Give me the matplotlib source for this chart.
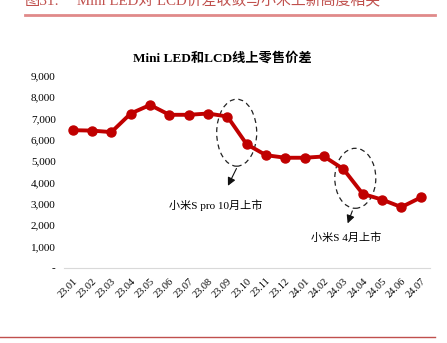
import matplotlib.pyplot as plt
from matplotlib.patches import Ellipse
from matplotlib.lines import Line2D

plt.rcParams['font.family'] = ['Liberation Serif', 'Noto Sans CJK SC']

months = ['23.01', '23.02', '23.03', '23.04', '23.05', '23.06', '23.07', '23.08',
          '23.09', '23.10', '23.11', '23.12', '24.01', '24.02', '24.03', '24.04',
          '24.05', '24.06', '24.07']
price_gap = [6450, 6430, 6360, 7230, 7630, 7170, 7170, 7230, 7090, 5790,
             5280, 5160, 5160, 5220, 4630, 3470, 3200, 2850, 3300]
y_ticks = [0, 1000, 2000, 3000, 4000, 5000, 6000, 7000, 8000, 9000]
y_labels = ['-', '1,000', '2,000', '3,000', '4,000', '5,000', '6,000', '7,000', '8,000', '9,000']

W, H = 447, 343
fig = plt.figure(figsize=(W / 100, H / 100), dpi=100)

# page header (cut off at top in the source) and rules
fig.text(25 / W, 1 - 1 / H, '图31:', color='#c0504d', fontsize=11, va='center', ha='left')
fig.text(77 / W, 1 - 1 / H, 'Mini LED对 LCD价差收敛与小米上新高度相关',
         color='#c0504d', fontsize=10.7, va='center', ha='left')
fig.add_artist(Line2D([25 / W, 435 / W], [1 - 14.5 / H, 1 - 14.5 / H],
                      color='#e08a8a', lw=2))
fig.add_artist(Line2D([0, 435 / W], [1 - 337 / H, 1 - 337 / H],
                      color='#c0504d', lw=1))

ax = fig.add_axes([64 / W, 1 - 268 / H, (430 - 64) / W, (268 - 75.7) / H])
x = list(range(len(months)))
ax.plot(x, price_gap, color='#c00000', lw=2.8, marker='o', markersize=6.5)

ax.set_xlim(-0.45, len(months) - 1 + 0.48)
ax.set_ylim(0, 9000)
ax.set_yticks(y_ticks)
ax.set_yticklabels(y_labels, fontsize=8)
ax.set_xticks(x)
ax.set_xticklabels(months, fontsize=7.5, rotation=45, ha='right', rotation_mode='anchor')
ax.tick_params(length=0, pad=6)
for s in ['top', 'right', 'left']:
    ax.spines[s].set_visible(False)
ax.spines['bottom'].set_color('#d9d9d9')

fig.text(222 / W, 1 - 58 / H, 'Mini LED和LCD线上零售价差', fontsize=9.5,
         fontweight='bold', ha='center', va='center')

# annotation ellipses in data coords
def px2data(px, py):
    return ax.transData.inverted().transform(fig.transFigure.transform((px / W, 1 - py / H)))

def add_note(cx, cy, w, h, a0, a1, label, lx, ly):
    c = px2data(cx, cy)
    p0 = px2data(cx - w / 2, cy - h / 2)
    p1 = px2data(cx + w / 2, cy + h / 2)
    ax.add_patch(Ellipse(c, abs(p1[0] - p0[0]), abs(p1[1] - p0[1]), fill=False,
                         ls=(0, (4, 3)), lw=0.9, ec='#222222', clip_on=False))
    ax.annotate('', xy=px2data(*a1), xytext=px2data(*a0),
                arrowprops=dict(arrowstyle='-|>', color='#111111', lw=0.8,
                                mutation_scale=12), annotation_clip=False)
    fig.text(lx / W, 1 - ly / H, label, fontsize=8, ha='center', va='center')

add_note(236.7, 132.7, 40, 67, (237.7, 166), (226.7, 188.3), '小米S pro 10月上市', 216, 205)
add_note(355.3, 178.3, 41, 60, (353.3, 208.3), (346.7, 226), '小米S 4月上市', 346, 238)

fig.savefig('out.png', dpi=100)
